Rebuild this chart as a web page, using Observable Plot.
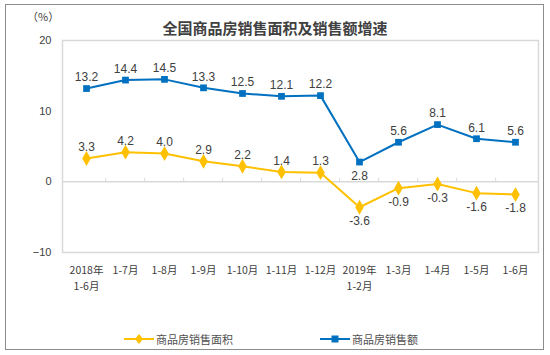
<!DOCTYPE html>
<html><head><meta charset="utf-8">
<script src="https://cdn.jsdelivr.net/npm/d3@7"></script>
<script src="https://cdn.jsdelivr.net/npm/@observablehq/plot@0.6"></script>
<style>
body{margin:0;background:#fff;}
#wrap{position:relative;width:550px;height:355px;overflow:hidden;font-family:"Noto Sans CJK SC",sans-serif;color:#404040;}
#border{position:absolute;left:5px;top:4px;width:537px;height:344px;border:1px solid #8c8c8c;}
#title{position:absolute;left:0;width:550px;top:17px;text-align:center;font-size:15px;font-weight:bold;color:#404040;}
#unit{position:absolute;left:27px;top:8px;font-size:11px;color:#404040;}
#chart{position:absolute;left:0;top:0;}
#legend{position:absolute;top:330px;left:0;width:550px;height:18px;font-size:11px;color:#505050;}
.item{position:absolute;top:0;display:flex;align-items:center;}
.item svg{margin-right:2px;}
</style>
</head><body>
<div id="wrap">
  <div id="border"></div>
  <div id="unit">（%）</div>
  <div id="chart"></div>
  <div id="title"></div>
  <div id="legend"></div>
</div>
<script>
const categories = ["2018年\n1-6月","1-7月","1-8月","1-9月","1-10月","1-11月","1-12月","2019年\n1-2月","1-3月","1-4月","1-5月","1-6月"];
const areaGrowth = [3.3,4.2,4.0,2.9,2.2,1.4,1.3,-3.6,-0.9,-0.3,-1.6,-1.8];
const salesGrowth = [13.2,14.4,14.5,13.3,12.5,12.1,12.2,2.8,5.6,8.1,6.1,5.6];
const yTicks = [-10,0,10,20];
const seriesNames = ["商品房销售面积","商品房销售额"];
const titleText = "全国商品房销售面积及销售额增速";

const YELLOW = "#FFC000", BLUE = "#0070C0", GRID = "#d9d9d9", TEXT = "#404040";

document.getElementById("title").textContent = titleText;

const area = categories.map((c,i)=>({cat:c, value:areaGrowth[i], i}));
const sales = categories.map((c,i)=>({cat:c, value:salesGrowth[i], i}));

// label placement: area below when negative; sales below at its minimum
const salesMin = d3.min(salesGrowth);
const areaBelow = d => d.value < 0;
const salesBelow = d => d.value === salesMin;

const W = 550, H = 300, mL = 62, mR = 12, mT = 40, mB = 48;
const step = (W - mL - mR) / categories.length;
const fmt = d => d.value.toFixed(1);
const numFont = "Liberation Sans, Arial, sans-serif";
const line1 = d => d.split("\n")[0];
const line2 = d => d.split("\n")[1] || "";

const chart = Plot.plot({
  width: W, height: H,
  marginLeft: mL, marginRight: mR, marginTop: mT, marginBottom: mB,
  style: {color: TEXT, fontFamily: "Noto Sans CJK SC, sans-serif", background: "transparent"},
  x: {type: "point", domain: categories, padding: 0.5, label: null},
  y: {domain: [-10, 20], label: null},
  marks: [
    Plot.frame({stroke: GRID, strokeWidth: 1.5}),
    Plot.ruleY([0], {stroke: GRID, strokeWidth: 1.5}),
    Plot.ruleX(categories.slice(1), {x: d => d, y1: 0, y2: 0.5, stroke: GRID, dx: -step/2}),
    Plot.axisY(yTicks, {tickSize: 0, tickPadding: 11, fontSize: 11, fontFamily: numFont, fill: TEXT, label: null}),
    Plot.axisX({tickSize: 0, tickPadding: 14, fontSize: 10.5, fill: TEXT, tickFormat: line1, label: null}),
    Plot.axisX(categories.filter(c => line2(c)), {tickSize: 0, tickPadding: 30, fontSize: 10.5, fill: TEXT, tickFormat: line2, label: null}),
    Plot.line(area, {x: "cat", y: "value", stroke: YELLOW, strokeWidth: 2}),
    Plot.line(sales, {x: "cat", y: "value", stroke: BLUE, strokeWidth: 2}),
    Plot.dot(area, {x: "cat", y: "value", symbol: "diamond", fill: YELLOW, r: 4.5}),
    Plot.dot(sales, {x: "cat", y: "value", symbol: "square", fill: BLUE, r: 3.8}),
    Plot.text(area.filter(d => !areaBelow(d)), {x: "cat", y: "value", text: fmt, dy: -11, fontSize: 12, fontFamily: numFont, fill: TEXT}),
    Plot.text(area.filter(areaBelow), {x: "cat", y: "value", text: fmt, dy: 14, fontSize: 12, fontFamily: numFont, fill: TEXT}),
    Plot.text(sales.filter(d => !salesBelow(d)), {x: "cat", y: "value", text: fmt, dy: -11, fontSize: 12, fontFamily: numFont, fill: TEXT}),
    Plot.text(sales.filter(salesBelow), {x: "cat", y: "value", text: fmt, dy: 14, fontSize: 12, fontFamily: numFont, fill: TEXT})
  ]
});
document.getElementById("chart").appendChild(chart);

// legend
const legend = document.getElementById("legend");
const swatch = (color, shape) => {
  const s = shape === "diamond"
    ? `<path d="M15,4 L19,9 L15,14 L11,9 Z" fill="${color}"/>`
    : `<rect x="11.5" y="5.5" width="7" height="7" fill="${color}"/>`;
  return `<svg width="30" height="18"><line x1="0" y1="9" x2="30" y2="9" stroke="${color}" stroke-width="2"/>${s}</svg>`;
};
[[seriesNames[0], YELLOW, "diamond", 124], [seriesNames[1], BLUE, "square", 320]].forEach(([name, color, shape, left]) => {
  const el = document.createElement("div");
  el.className = "item";
  el.style.left = left + "px";
  el.innerHTML = swatch(color, shape) + `<span>${name}</span>`;
  legend.appendChild(el);
});
</script>
</body></html>
